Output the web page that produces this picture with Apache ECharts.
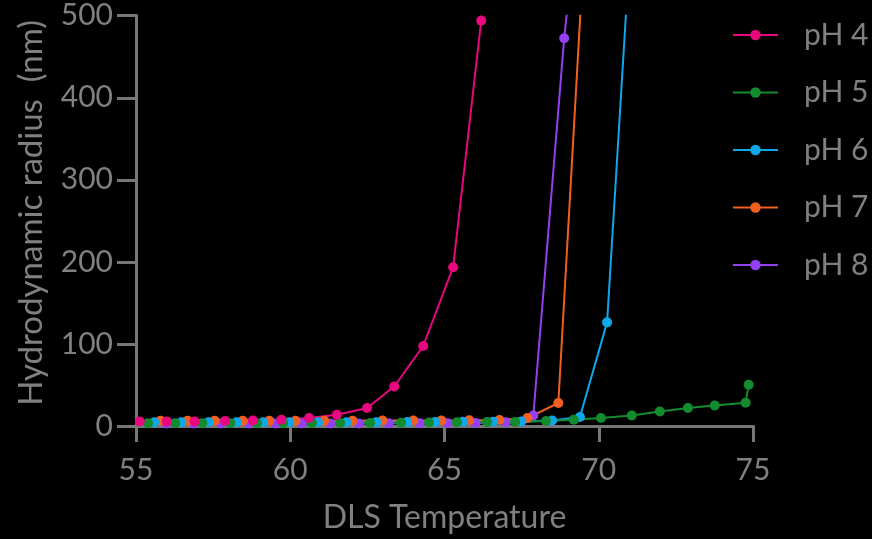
<!DOCTYPE html>
<html>
<head>
<meta charset="utf-8">
<script src="https://cdn.jsdelivr.net/npm/echarts@6/dist/echarts.min.js"></script>
<style>
  html, body { margin: 0; padding: 0; background: #000; }
  #chart { width: 872px; height: 539px; }
</style>
</head>
<body>
<div id="chart"></div>
<script>
// Hydrodynamic radius (nm) against DLS temperature (°C), one run per pH
const ph4Temp = [55.12, 56.0, 56.9, 57.89, 58.79, 59.71, 60.61, 61.51, 62.49, 63.37, 64.31, 65.28, 66.19];
const ph4Size = [5.6, 5.6, 5.6, 6.0, 6.8, 7.7, 9.7, 13.7, 21.9, 48.1, 97.5, 193.5, 494];

const ph5Temp = [55.39, 56.27, 57.15, 58.06, 58.92, 59.77, 60.7, 61.62, 62.59, 63.59, 64.5, 65.4, 66.38, 67.29, 68.29, 69.19, 70.07, 71.07, 71.98, 72.89, 73.76, 74.76, 74.86];
const ph5Size = [3.5, 3.5, 3.5, 3.5, 3.5, 3.5, 3.6, 3.7, 3.8, 4.0, 4.2, 4.5, 4.8, 5.0, 6.1, 7.7, 9.7, 12.9, 17.7, 21.9, 25.0, 28.3, 50.2];

const ph6Temp = [55.59, 56.47, 57.35, 58.26, 59.12, 59.97, 60.9, 61.82, 62.79, 63.79, 64.7, 65.6, 66.58, 67.49, 68.49, 69.39, 70.27, 71.27];
const ph6Size = [4.5, 4.5, 4.5, 4.5, 4.5, 4.5, 4.5, 4.6, 4.7, 4.8, 5.0, 5.1, 5.3, 5.6, 6.8, 10.9, 126.3, 740];

const ph7Temp = [55.79, 56.67, 57.55, 58.46, 59.32, 60.17, 61.1, 62.02, 62.99, 63.99, 64.9, 65.8, 66.78, 67.69, 68.69, 69.6];
const ph7Size = [6.5, 6.5, 6.5, 6.5, 6.5, 6.5, 6.5, 6.5, 6.6, 6.7, 6.8, 7.0, 7.4, 9.7, 28.0, 633];

const ph8Temp = [55.99, 56.87, 57.75, 58.66, 59.52, 60.37, 61.3, 62.22, 63.19, 64.19, 65.1, 66.0, 66.98, 67.88, 68.88, 69.8];
const ph8Size = [3.0, 3.0, 3.0, 3.0, 3.0, 3.0, 3.0, 3.1, 3.2, 3.3, 3.5, 3.8, 4.5, 12.9, 472.6, 800];

const xTicks = [55, 60, 65, 70, 75];
const yTicks = [0, 100, 200, 300, 400, 500];

// drawn back to front so pH 4 sits on top of the crowded baseline
const runs = [
  { name: 'pH 8', temp: ph8Temp, size: ph8Size, color: '#9340f2' },
  { name: 'pH 7', temp: ph7Temp, size: ph7Size, color: '#f2601f' },
  { name: 'pH 6', temp: ph6Temp, size: ph6Size, color: '#0ea8ea' },
  { name: 'pH 5', temp: ph5Temp, size: ph5Size, color: '#128c2e' },
  { name: 'pH 4', temp: ph4Temp, size: ph4Size, color: '#e8077f' }
];

const FONT = 'Lato';
const GREY = '#808080';
const AXIS_GREY = '#777777';

const chart = echarts.init(document.getElementById('chart'), null, { renderer: 'canvas' });

chart.setOption({
  backgroundColor: '#000000',
  animation: false,
  grid: { left: 136, right: 119, top: 15.7, bottom: 111.7, containLabel: false },
  legend: {
    data: ['pH 4', 'pH 5', 'pH 6', 'pH 7', 'pH 8'],
    orient: 'vertical',
    left: 727,
    top: 15,
    itemWidth: 45,
    itemHeight: 13,
    itemGap: 27.5,
    textStyle: { color: GREY, fontFamily: FONT, fontSize: 30, lineHeight: 30, padding: [0, 0, 0, 21] }
  },
  xAxis: {
    type: 'value',
    min: xTicks[0],
    max: xTicks[xTicks.length - 1],
    interval: 5,
    name: 'DLS Temperature',
    nameLocation: 'middle',
    nameGap: 76,
    nameTextStyle: { color: GREY, fontFamily: FONT, fontSize: 32 },
    axisLine: { show: true, onZero: false, lineStyle: { color: AXIS_GREY, width: 3, cap: 'square' } },
    axisTick: { show: true, inside: false, length: 16, lineStyle: { color: AXIS_GREY, width: 3 } },
    axisLabel: { color: GREY, fontFamily: FONT, fontSize: 30, margin: 29 },
    splitLine: { show: false }
  },
  yAxis: {
    type: 'value',
    min: yTicks[0],
    max: yTicks[yTicks.length - 1],
    interval: 100,
    name: 'Hydrodynamic radius  (nm)',
    nameLocation: 'middle',
    nameGap: 88,
    nameRotate: 90,
    nameTextStyle: { color: GREY, fontFamily: FONT, fontSize: 33, padding: [0, 0, 0, 16] },
    axisLine: { show: true, onZero: false, lineStyle: { color: AXIS_GREY, width: 3, cap: 'square' } },
    axisTick: { show: true, inside: false, length: 19, lineStyle: { color: AXIS_GREY, width: 3 } },
    axisLabel: { color: GREY, fontFamily: FONT, fontSize: 30, margin: 23 },
    splitLine: { show: false }
  },
  series: runs.map(r => ({
    name: r.name,
    type: 'line',
    clip: true,
    data: r.temp.map((t, i) => [t, r.size[i]]),
    symbol: 'circle',
    symbolSize: 10,
    showSymbol: true,
    color: r.color,
    lineStyle: { color: r.color, width: 2 },
    itemStyle: { color: r.color }
  }))
});
</script>
</body>
</html>
